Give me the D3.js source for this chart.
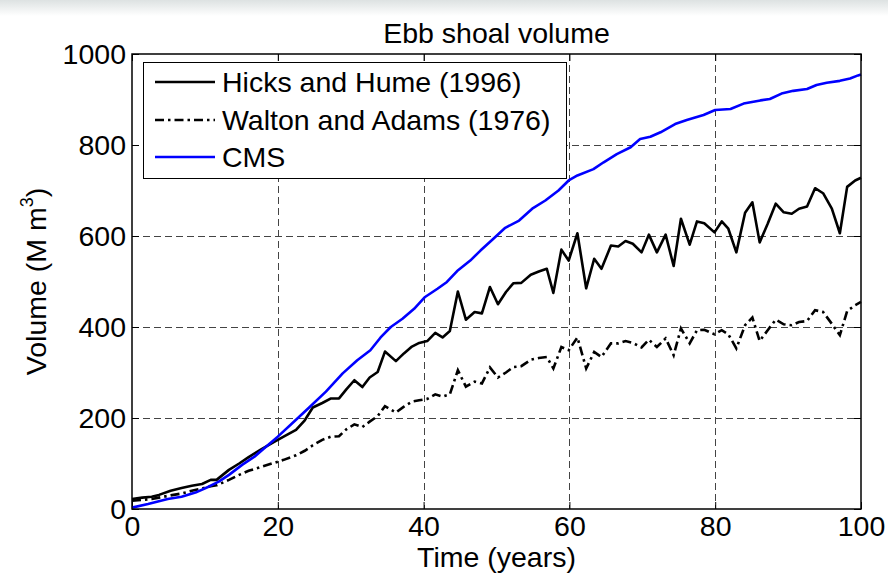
<!DOCTYPE html>
<html><head><meta charset="utf-8">
<script src="https://cdn.jsdelivr.net/npm/d3@7"></script>
<style>body{margin:0;background:#fff;} svg{display:block;font-family:"Liberation Sans",Arial,sans-serif;}</style>
</head><body><svg id="c" width="888" height="576"></svg>
<script>
// ---- data ----
const hhYears = [0,1.4,2.7,3.7,5.3,6.8,8.2,9.6,10.8,11.6,13.3,14.7,16.0,17.6,19.2,20.8,22.5,23.7,24.8,26.1,27.3,28.4,29.4,30.5,31.6,32.6,33.7,34.7,36.2,37.3,38.4,39.4,40.5,41.6,42.6,43.6,44.7,45.8,47.0,48.0,49.1,50.2,51.3,52.3,53.4,54.7,55.8,56.9,57.8,58.9,59.9,61.1,62.3,63.4,64.4,65.7,66.7,67.7,68.7,69.9,70.9,72.0,73.2,74.3,75.3,76.5,77.5,78.5,79.9,80.9,81.8,82.9,84.1,85.1,86.1,87.2,88.3,89.4,90.5,91.5,92.6,93.7,94.8,96.0,97.1,98.1,99.2,100];
const hicksHume = [22,25,27,31,40,46,51,55,64,64,86,100,114,130,145,159,174,195,223,233,243,243,263,283,268,289,301,346,325,342,357,365,369,387,377,391,478,416,433,430,488,450,477,496,497,515,522,528,475,570,546,606,485,550,528,579,577,589,583,564,603,564,603,534,638,581,632,628,608,632,616,564,651,674,586,627,671,652,649,660,665,705,694,660,606,708,722,728];
const waltonAdams = [18,20,22,25,30,34,40,45,50,52,64,75,84,92,100,108,118,128,140,152,159,160,175,186,180,192,204,226,212,225,236,239,242,252,247,252,305,269,280,276,311,289,300,312,314,328,332,334,309,356,349,377,309,345,334,364,364,369,365,355,372,356,375,338,397,364,393,394,384,393,384,353,404,421,369,393,416,406,404,411,413,437,433,407,382,435,448,455];
const cmsYears = [0,2.2,4.9,6.8,8.7,10.5,11.9,13.3,15.1,16.8,18.1,20.0,22.5,24.3,26.6,28.9,30.9,32.7,34.1,35.5,37.1,38.7,40.2,41.9,43.2,44.6,46.4,47.8,49.5,51.2,53.1,54.9,56.7,58.5,59.9,61.1,63.3,64.7,66.5,68.4,69.7,71.1,72.5,74.5,76.1,78.4,80.0,82.1,83.9,86.2,87.5,89.1,90.7,92.6,93.9,95.3,97.1,98.5,99.6,100];
const cmsValues = [3,11,22,27,36,49,60,75,97,115,133,159,196,223,258,298,327,349,377,400,418,440,466,484,499,523,546,568,593,618,634,660,678,700,722,733,747,762,780,795,813,818,828,846,855,866,877,879,891,898,901,913,919,923,932,937,941,946,953,955];
const xTicks = [0,20,40,60,80,100];
const yTicks = [0,200,400,600,800,1000];
const seriesNames = ["Hicks and Hume (1996)","Walton and Adams (1976)","CMS"];
const titleText = "Ebb shoal volume";
const xLabelText = "Time (years)";

// ---- layout ----
const svg = d3.select("#c");
const L = 132, R = 861, T = 54, B = 509;
const x = d3.scaleLinear().domain([0,100]).range([L,R]);
const y = d3.scaleLinear().domain([0,1000]).range([B,T]);
const FS = 28.5;
const LW = 2.6;
const DASHDOT = "9,4,2.5,4";

// faint header strip
const defs = svg.append("defs");
const g0 = defs.append("linearGradient").attr("id","hdr").attr("x1",0).attr("x2",0).attr("y1",0).attr("y2",1);
g0.append("stop").attr("offset","0%").attr("stop-color","#dde2e2");
g0.append("stop").attr("offset","100%").attr("stop-color","#ffffff");
svg.append("rect").attr("x",0).attr("y",0).attr("width",888).attr("height",16).attr("fill","url(#hdr)");

// grid
const grid = svg.append("g").attr("stroke","#444").attr("stroke-width",1).attr("stroke-dasharray","7,4");
grid.selectAll(".gx").data(xTicks.filter(d=>d>0&&d<100)).join("line")
  .attr("x1",d=>Math.round(x(d))+0.5).attr("x2",d=>Math.round(x(d))+0.5).attr("y1",T).attr("y2",B);
grid.selectAll(".gy").data(yTicks.filter(d=>d>0&&d<1000)).join("line")
  .attr("y1",d=>Math.round(y(d))+0.5).attr("y2",d=>Math.round(y(d))+0.5).attr("x1",L).attr("x2",R);

// axes
const ax = svg.append("g").attr("transform",`translate(0,${B})`)
  .call(d3.axisBottom(x).tickValues(xTicks).tickSize(-7).tickPadding(6).tickFormat(d3.format("d")));
const ay = svg.append("g").attr("transform",`translate(${L},0)`)
  .call(d3.axisLeft(y).tickValues(yTicks).tickSize(-7).tickPadding(6).tickFormat(d3.format("d")));
const at = svg.append("g").attr("transform",`translate(0,${T})`)
  .call(d3.axisTop(x).tickValues(xTicks).tickSize(-7).tickFormat(""));
const ar = svg.append("g").attr("transform",`translate(${R},0)`)
  .call(d3.axisRight(y).tickValues(yTicks).tickSize(-7).tickFormat(""));
[ax,ay,at,ar].forEach(a=>{
  a.select(".domain").remove();
  a.selectAll("line").attr("stroke","#000").attr("stroke-width",1);
  a.selectAll("text").attr("font-size",FS).attr("fill","#000").attr("font-family","Liberation Sans, Arial, sans-serif");
});
ax.selectAll("text").attr("dy","0.72em");

// lines
const line = (xs,vs)=>d3.line().x((d,i)=>x(xs[i])).y(d=>y(d))(vs);
svg.append("path").attr("d",line(hhYears,hicksHume)).attr("fill","none").attr("stroke","#000").attr("stroke-width",LW).attr("stroke-linejoin","round");
svg.append("path").attr("d",line(hhYears,waltonAdams)).attr("fill","none").attr("stroke","#000").attr("stroke-width",LW).attr("stroke-dasharray",DASHDOT);
svg.append("path").attr("d",line(cmsYears,cmsValues)).attr("fill","none").attr("stroke","#0000ff").attr("stroke-width",LW).attr("stroke-linejoin","round");

// frame
svg.append("rect").attr("x",L).attr("y",T).attr("width",R-L).attr("height",B-T).attr("fill","none").attr("stroke","#000").attr("stroke-width",1.5);

// legend
const lg = svg.append("g");
lg.append("rect").attr("x",143.5).attr("y",62.5).attr("width",423).attr("height",116).attr("fill","#fff").attr("stroke","#000").attr("stroke-width",1);
const styles = [{c:"#000",d:null},{c:"#000",d:DASHDOT},{c:"#0000ff",d:null}];
const rowsY = [82,120,157];
seriesNames.forEach((n,i)=>{
  const l = lg.append("line").attr("x1",155).attr("x2",215).attr("y1",rowsY[i]).attr("y2",rowsY[i]).attr("stroke",styles[i].c).attr("stroke-width",LW);
  if(styles[i].d) l.attr("stroke-dasharray",styles[i].d);
  lg.append("text").attr("x",222).attr("y",rowsY[i]).attr("dy","0.36em").attr("font-size",FS).text(n);
});

// title & labels
svg.append("text").attr("x",(L+R)/2).attr("y",33).attr("dy","0.36em").attr("text-anchor","middle").attr("font-size",FS).text(titleText);
svg.append("text").attr("x",(L+R)/2).attr("y",557).attr("dy","0.36em").attr("text-anchor","middle").attr("font-size",FS).text(xLabelText);
const yl = svg.append("text").attr("transform",`translate(36,${(T+B)/2}) rotate(-90)`).attr("text-anchor","middle").attr("dy","0.36em").attr("font-size",FS);
yl.append("tspan").text("Volume (M m");
yl.append("tspan").attr("font-size",18).attr("dy","-0.75em").text("3");
yl.append("tspan").attr("font-size",FS).attr("dy","0.45em").text(")");
</script></body></html>
